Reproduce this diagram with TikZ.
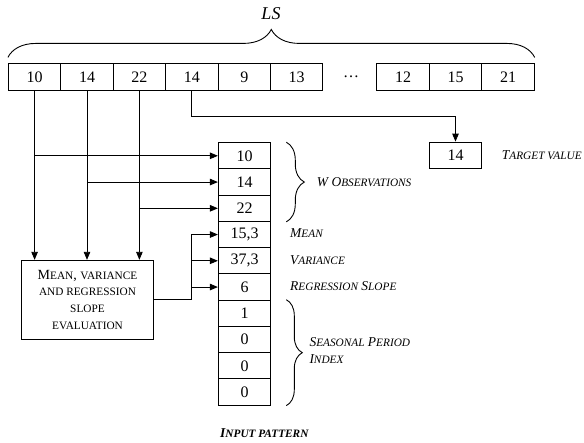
\documentclass[tikz,border=0pt]{standalone}
\usepackage{fontspec}
\setmainfont{Liberation Serif}
\usetikzlibrary{arrows.meta, decorations.pathreplacing}
\newcommand{\scl}[1]{{\fontsize{11.3pt}{13pt}\selectfont #1}}

\begin{document}
\begin{tikzpicture}[x=1pt, y=-1pt,
    cell/.style={draw, line width=0.9pt, minimum width=52.5pt, minimum height=26.25pt, inner sep=0pt, font=\fontsize{16}{18}\selectfont},
    arr/.style={line width=0.9pt, -{Triangle[length=8pt, width=6.5pt]}},
    lab/.style={anchor=west, inner sep=0pt, font=\fontsize{13.5}{17.6}\selectfont\itshape},
    brc/.style={decorate, decoration={brace, amplitude=#1}, line width=0.9pt}]
    \useasboundingbox (0,0) rectangle (584,443);

    % Draw learning set
    \node[cell] (s1) at (34.6,77) {10};
    \node[cell] (s2) at (87,77) {14};
    \node[cell] (s3) at (139.4,77) {22};
    \node[cell] (s4) at (191.9,77) {14};
    \node[cell] (s5) at (244.4,77) {9};
    \node[cell] (s6) at (296.6,77) {13};
    \node[font=\fontsize{16}{18}\selectfont] (dots) at (351,77) {\ldots};
    \node[cell] (s7) at (403,77) {12};
    \node[cell] (s8) at (455.5,77) {15};
    \node[cell] (s9) at (508,77) {21};

    % Draw input pattern
    \node[cell] (m1) at (244.6,155.8) {10};
    \node[cell] (m2) at (244.6,182.05) {14};
    \node[cell] (m3) at (244.6,208.3) {22};
    \node[cell] (m4) at (244.6,234.55) {15,3};
    \node[cell] (m5) at (244.6,260.8) {37,3};
    \node[cell] (m6) at (244.6,287.05) {6};
    \node[cell] (m7) at (244.6,313.3) {1};
    \node[cell] (m8) at (244.6,339.55) {0};
    \node[cell] (m9) at (244.6,365.8) {0};
    \node[cell] (m10) at (244.6,392.05) {0};

    % Target and evaluation box
    \node[cell] (target) at (455.5,155.2) {14};
    \node[draw, line width=0.9pt, minimum width=131.6pt, minimum height=79pt, align=center,
        font=\fontsize{14}{16.7}\selectfont] (eval) at (87.5,299.8)
        {M\scl{EAN}, \scl{VARIANCE}\\ \scl{AND REGRESSION}\\ \scl{SLOPE}\\ \scl{EVALUATION}};

    % Draw connections
    \draw[arr] (s1.south) -- (s1.south |- eval.north);
    \draw[arr] (s2.south) -- (s2.south |- eval.north);
    \draw[arr] (s3.south) -- (s3.south |- eval.north);
    \draw[arr] (s1 |- m1) -- (m1.west);
    \draw[arr] (s2 |- m2) -- (m2.west);
    \draw[arr] (s3 |- m3) -- (m3.west);
    \draw[arr] (s4.south) -- ++(0,26) -| (target.north);
    \coordinate (fork) at (s4 |- eval.east);
    \draw[arr] (eval.east) -- (fork) |- (m4.west);
    \draw[arr] (fork |- m5) -- (m5.west);
    \draw[arr] (fork |- m6) -- (m6.west);

    % Braces
    \draw[brc=28] ([yshift=6pt]s1.north west) -- ([yshift=6pt]s9.north east);
    \draw[brc=18] ([xshift=15pt]m1.north east) -- ([xshift=15pt]m3.south east);
    \draw[brc=16] ([xshift=15pt]m7.north east) -- ([xshift=15pt]m10.south east);

    % Labels
    \node[font=\fontsize{18}{20}\selectfont\itshape] (ls) at (271,13.8) {LS};
    \node[lab] (wobs) at (316.7,181.7) {W O\scl{BSERVATIONS}};
    \node[lab] (mean) at (290,233.3) {M\scl{EAN}};
    \node[lab] (var) at (290,260) {V\scl{ARIANCE}};
    \node[lab] (slope) at (290,286) {R\scl{EGRESSION} S\scl{LOPE}};
    \node[lab, align=left] (season) at (309.3,350.5) {S\scl{EASONAL} P\scl{ERIOD}\\ I\scl{NDEX}};
    \node[lab] (tval) at (501.7,155) {T\scl{ARGET VALUE}};
    \node[lab, font=\fontsize{13.5}{16}\selectfont\bfseries\itshape] (inpat) at (220,433.3) {I\scl{NPUT PATTERN}};
\end{tikzpicture}
\end{document}
